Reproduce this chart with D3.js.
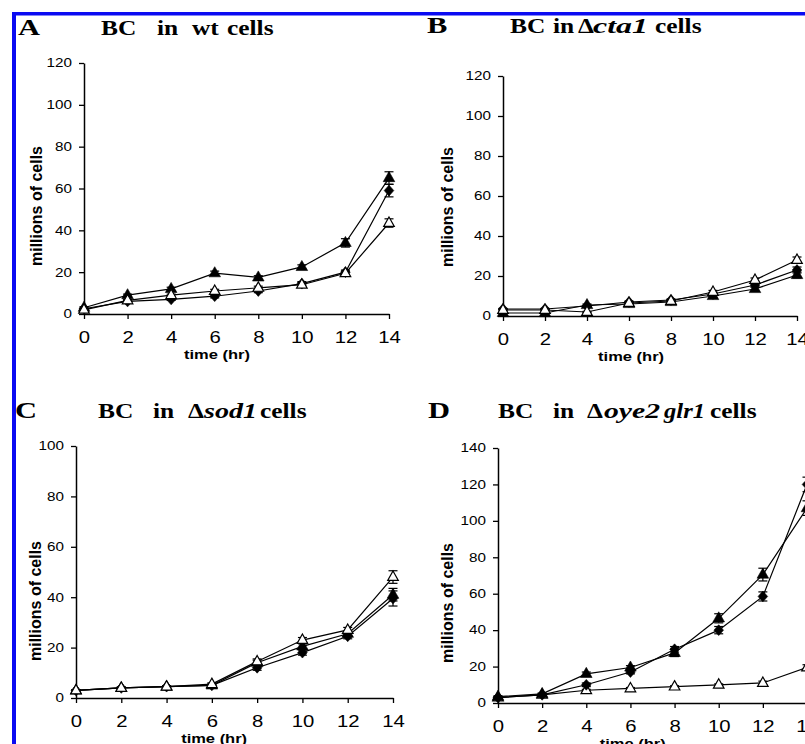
<!DOCTYPE html>
<html>
<head>
<meta charset="utf-8">
<script src="https://cdn.jsdelivr.net/npm/d3@7"></script>
<style>
  html, body { margin: 0; padding: 0; background: #fff; }
  svg { display: block; }
</style>
</head>
<body>
<svg id="fig" width="805" height="744"></svg>
<script>
// ---- data -------------------------------------------------------------
const times = [0, 2, 4, 6, 8, 10, 12, 14];

// BC in wt cells (millions of cells)
const wtFilledTri  = [3, 9, 12, 19.5, 17.5, 22.5, 34, 65];
const wtDiamond    = [2.5, 6, 7, 8.5, 11, 14.5, 20, 59];
const wtOpenTri    = [2, 6.5, 9, 11, 12.5, 14, 19.5, 43.5];
const wtFilledTriErr = [0.5, 0.5, 0.8, 1, 0.8, 1, 2, 3];
const wtDiamondErr   = [0.5, 0.5, 0.5, 0.8, 0.8, 1, 1, 3];
const wtOpenTriErr   = [0.5, 0.5, 0.5, 0.8, 0.8, 1, 1, 2];

// BC in Δcta1 cells
const ctaFilledTri = [1.5, 1.5, 5.5, 6, 7, 10, 13.5, 20.5];
const ctaDiamond   = [3.5, 3.5, 5, 7, 8, 11, 15.5, 23];
const ctaOpenTri   = [3, 3, 2, 6.5, 7.5, 12, 18, 28];
const ctaFilledTriErr = [0.3, 0.3, 0.5, 0.5, 0.5, 0.8, 1, 1.5];
const ctaDiamondErr   = [0.3, 0.3, 0.5, 0.5, 0.5, 0.8, 1, 1.5];
const ctaOpenTriErr   = [0.3, 0.3, 0.3, 0.5, 0.5, 0.8, 1, 1.5];

// BC in Δsod1 cells
const sodFilledTri = [3, 4, 4.5, 5, 14, 20.5, 25.5, 41];
const sodDiamond   = [3, 4, 4.5, 5, 12, 18, 24.5, 39.5];
const sodOpenTri   = [3, 4, 4.5, 5.5, 14.5, 23, 27, 48];
const sodFilledTriErr = [0.3, 0.3, 0.3, 0.5, 1, 1, 1, 2.5];
const sodDiamondErr   = [0.3, 0.3, 0.3, 0.5, 1, 1, 1, 3];
const sodOpenTriErr   = [0.3, 0.3, 0.3, 0.5, 1, 1, 1, 2.5];

// BC in Δoye2 glr1 cells
const oyeFilledTri = [3.5, 5, 16, 19.5, 27.5, 46.5, 70.5, 107];
const oyeDiamond   = [3, 4.5, 10, 17, 29.5, 40, 58.5, 120];
const oyeOpenTri   = [3, 4.5, 7, 8, 9, 10, 11, 19.5];
const oyeFilledTriErr = [0.5, 0.5, 1, 1, 2, 2.5, 3.5, 4];
const oyeDiamondErr   = [0.5, 0.5, 1, 1, 1.5, 2, 2.5, 4];
const oyeOpenTriErr   = [0.5, 0.5, 0.5, 0.5, 0.5, 0.5, 1, 1.5];

const yMaxA = 120, yMaxB = 120, yMaxC = 100, yMaxD = 140;

// ---- styling / layout -------------------------------------------------
const SX = 1.27;                       // horizontal stretch applied to all lettering
const SANS = '"Liberation Sans", Arial, sans-serif';
const SERIF = '"Liberation Serif", "Times New Roman", "DejaVu Serif", serif';

const svg = d3.select("#fig");

const markerPaths = {
  tri:  "M0,-6.5L5.8,3.6L-5.8,3.6Z",
  dia:  "M0,-5.4L4.8,0L0,5.4L-4.8,0Z",
  open: "M0,-6L5.3,3.4L-5.3,3.4Z"
};

const panels = [
  {
    letter: "A", letterX: 18, titleY: 35,
    words: [{t: "BC", x: 101}, {t: "in", x: 157}, {t: "wt", x: 192}, {t: "cells", x: 227}],
    x0: 84, x1: 389, yTop: 63, yBot: 314, yMax: yMaxA,
    yLabel: {x: 36, y: 206},
    series: [
      {kind: "dia",  v: wtDiamond,   e: wtDiamondErr},
      {kind: "tri",  v: wtFilledTri, e: wtFilledTriErr},
      {kind: "open", v: wtOpenTri,   e: wtOpenTriErr}
    ]
  },
  {
    letter: "B", letterX: 427, titleY: 33,
    words: [{t: "BC", x: 510}, {t: "in", x: 553}, {t: "Δ", x: 578}, {t: "cta1", x: 593, it: true, w: 55}, {t: "cells", x: 655}],
    x0: 503, x1: 797, yTop: 76, yBot: 316, yMax: yMaxB,
    yLabel: {x: 447, y: 207},
    series: [
      {kind: "tri",  v: ctaFilledTri, e: ctaFilledTriErr},
      {kind: "dia",  v: ctaDiamond,   e: ctaDiamondErr},
      {kind: "open", v: ctaOpenTri,   e: ctaOpenTriErr}
    ]
  },
  {
    letter: "C", letterX: 15, titleY: 418,
    words: [{t: "BC", x: 98}, {t: "in", x: 153}, {t: "Δ", x: 188}, {t: "sod1", x: 204, it: true, w: 53}, {t: "cells", x: 260}],
    x0: 76, x1: 393, yTop: 446, yBot: 698, yMax: yMaxC,
    yLabel: {x: 35, y: 601},
    series: [
      {kind: "dia",  v: sodDiamond,   e: sodDiamondErr},
      {kind: "tri",  v: sodFilledTri, e: sodFilledTriErr},
      {kind: "open", v: sodOpenTri,   e: sodOpenTriErr}
    ]
  },
  {
    letter: "D", letterX: 428, titleY: 418,
    words: [{t: "BC", x: 498}, {t: "in", x: 553}, {t: "Δ", x: 587}, {t: "oye2", x: 604, it: true, w: 56}, {t: "glr1", x: 664, it: true, w: 41}, {t: "cells", x: 710}],
    x0: 498, x1: 807, yTop: 448, yBot: 703, yMax: yMaxD,
    yLabel: {x: 447, y: 603},
    series: [
      {kind: "open", v: oyeOpenTri,   e: oyeOpenTriErr},
      {kind: "dia",  v: oyeDiamond,   e: oyeDiamondErr},
      {kind: "tri",  v: oyeFilledTri, e: oyeFilledTriErr}
    ]
  }
];

function stretched(g, x, y, str) {
  return g.append("text")
    .attr("transform", `translate(${x},${y}) scale(${SX},1)`)
    .text(str);
}

panels.forEach(p => {
  const g = svg.append("g");

  // panel letter and title
  stretched(g, p.letterX, p.titleY, p.letter)
    .attr("font-family", SERIF).attr("font-weight", "bold").attr("font-size", 24);
  p.words.forEach(w => {
    const t = stretched(g, w.x, p.titleY, w.t)
      .attr("font-family", SERIF).attr("font-weight", "bold").attr("font-size", 20)
      .attr("font-style", w.it ? "italic" : "normal");
    if (w.w) t.attr("textLength", w.w / SX).attr("lengthAdjust", "spacingAndGlyphs");
  });

  const x = d3.scaleLinear().domain([0, 14]).range([p.x0, p.x1]);
  const y = d3.scaleLinear().domain([0, p.yMax]).range([p.yBot, p.yTop]);

  // axes
  const xAxis = g.append("g")
    .attr("transform", `translate(0,${p.yBot})`)
    .call(d3.axisBottom(x).tickValues(times).tickSize(5).tickSizeOuter(0));
  xAxis.select(".domain").attr("stroke-width", 1.5);
  xAxis.selectAll(".tick line").attr("stroke-width", 1.3);
  xAxis.selectAll(".tick text")
    .attr("y", 18).attr("dy", "0.71em")
    .attr("transform", `scale(${SX},1)`)
    .attr("font-family", SANS).attr("font-size", 16).attr("fill", "#000");

  const yAxis = g.append("g")
    .attr("transform", `translate(${p.x0},0)`)
    .call(d3.axisLeft(y).ticks(p.yMax / 20).tickSize(5).tickSizeOuter(0));
  yAxis.select(".domain").attr("stroke-width", 1.5);
  yAxis.selectAll(".tick line").attr("stroke-width", 1.3);
  yAxis.selectAll(".tick text")
    .attr("x", -12 / SX)
    .attr("transform", `scale(${SX},1)`)
    .attr("font-family", SANS).attr("font-size", 12).attr("fill", "#000");

  // axis titles
  g.append("text")
    .attr("transform", `translate(${x(6.1)},${p.yBot + 45}) scale(${SX},1)`)
    .attr("text-anchor", "middle")
    .attr("font-family", SANS).attr("font-weight", "bold").attr("font-size", 13)
    .text("time (hr)");
  g.append("text")
    .attr("transform", `translate(${p.yLabel.x},${p.yLabel.y}) rotate(-90)`)
    .attr("text-anchor", "middle").attr("dominant-baseline", "central")
    .attr("font-family", SANS).attr("font-weight", "bold").attr("font-size", 16)
    .text("millions of cells");

  const line = d3.line().x((d, i) => x(times[i])).y(d => y(d));

  // connecting lines
  p.series.forEach(s => {
    g.append("path").attr("d", line(s.v))
      .attr("fill", "none").attr("stroke", "#000").attr("stroke-width", 1.2);
  });

  // error bars
  p.series.forEach(s => {
    const eb = g.append("g").attr("stroke", "#000").attr("stroke-width", 1.2);
    s.v.forEach((v, i) => {
      const cx = x(times[i]);
      const lo = y(v - s.e[i]), hi = y(v + s.e[i]);
      eb.append("line").attr("x1", cx).attr("x2", cx).attr("y1", lo).attr("y2", hi);
      eb.append("line").attr("x1", cx - 4.5).attr("x2", cx + 4.5).attr("y1", lo).attr("y2", lo);
      eb.append("line").attr("x1", cx - 4.5).attr("x2", cx + 4.5).attr("y1", hi).attr("y2", hi);
    });
  });

  // markers
  p.series.forEach(s => {
    g.append("g").selectAll("path").data(s.v).join("path")
      .attr("transform", (d, i) => `translate(${x(times[i])},${y(d)})`)
      .attr("d", markerPaths[s.kind])
      .attr("fill", s.kind === "open" ? "#fff" : "#000")
      .attr("stroke", "#000")
      .attr("stroke-width", s.kind === "open" ? 1.2 : 0.6);
  });
});

// blue frame along the top and left edges
svg.append("rect").attr("x", 12).attr("y", 12).attr("width", 793).attr("height", 3.5).attr("fill", "#0a0af2");
svg.append("rect").attr("x", 12).attr("y", 12).attr("width", 4).attr("height", 732).attr("fill", "#0a0af2");
</script>
</body>
</html>
